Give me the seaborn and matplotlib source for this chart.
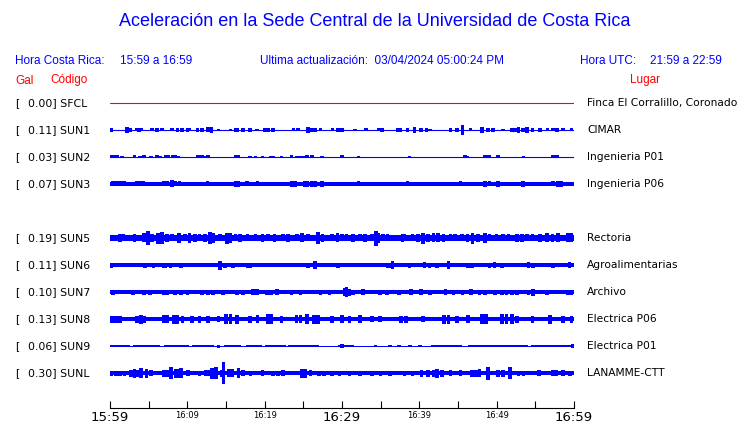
import matplotlib
matplotlib.use("Agg")
import matplotlib.pyplot as plt
import numpy as np
import pandas as pd
import seaborn as sns

# ---------------- data ----------------
codes = ["SFCL", "SUN1", "SUN2", "SUN3", "", "SUN5", "SUN6", "SUN7", "SUN8", "SUN9", "SUNL"]
gal = ["0.00", "0.11", "0.03", "0.07", "", "0.19", "0.11", "0.10", "0.13", "0.06", "0.30"]
places = ["Finca El Corralillo, Coronado", "CIMAR", "Ingenieria P01", "Ingenieria P06", "",
          "Rectoria", "Agroalimentarias", "Archivo", "Electrica P06", "Electrica P01", "LANAMME-CTT"]

tick_minutes = [0, 5, 10, 15, 20, 25, 30, 35, 40, 45, 50, 55, 60]
tick_labels = ["15:59", "", "16:09", "", "16:19", "", "16:29", "", "16:39", "", "16:49", "", "16:59"]
big_labels = ["15:59", "16:29", "16:59"]

# continuous band half-width of each trace (relative amplitude units)
base_amp = [0.0, 0.5, 0.5, 1.7, None, 2.7, 1.7, 1.7, 2.3, None, 2.0]

# bursts: minute after 15:59 and half amplitude
SUN1_t = [0.1, 2.2, 2.6, 3.5, 3.75, 4.1, 5.4, 6.1, 6.7, 8.0, 8.7, 9.3, 10.0, 10.3, 11.3, 11.9, 12.7,
          13.1, 14.0, 15.6, 16.2, 16.4, 17.2, 18.1, 19.0, 20.0, 20.4, 21.1, 23.7, 24.3, 25.6, 26.1,
          26.5, 27.2, 28.8, 29.5, 30.0, 31.7, 33.1, 34.7, 35.2, 37.2, 37.5, 38.5, 39.4, 40.2, 40.9,
          41.4, 44.0, 44.9, 45.6, 46.6, 48.1, 48.9, 49.5, 50.8, 52.0, 52.4, 52.8, 53.4, 53.9, 54.6,
          55.6, 56.6, 57.3, 57.8, 58.6, 59.7]
SUN1_a = [2, 3, 2, 1.5, 2, 1.5, 1.5, 2, 1.5, 1.5, 2, 2, 2, 1.5, 2, 2, 2.5,
          3, 1, 1, 2, 2, 2, 2, 1, 2, 2, 2, 1.5, 1.5, 3, 2,
          2, 1.5, 1.5, 2, 2, 1, 1.5, 1.5, 2, 2, 2, 2, 3, 2, 2,
          1, 2, 2, 5, 1.5, 3, 2, 2, 1, 2, 2, 3, 2, 3, 2,
          2, 1.5, 1.5, 2, 1.5, 1.5]

SUN2_t = [0.2, 0.6, 1.0, 1.55, 3.2, 3.9, 4.4, 5.3, 6.1, 6.5, 7.2, 7.5, 8.1, 8.4, 8.8, 11.4, 11.9,
          12.3, 12.7, 16.3, 16.6, 18.1, 18.8, 19.7, 20.8, 21.1, 22.2, 23.5, 24.2, 24.6, 25.0, 25.5,
          26.1, 27.4, 30.0, 32.1, 38.7, 45.9, 46.2, 48.4, 48.6, 49.1, 50.2, 53.5, 57.3, 57.8]
SUN2_a = [1.5, 1.5, 1.5, 1, 1.5, 1, 1.5, 1, 1.5, 1, 1.5, 1.5, 1.5, 1.5, 1, 1.5, 1.5,
          1, 1.5, 1.5, 1.5, 1, 1, 1, 1, 1, 1, 1.5, 1, 1, 1, 1.5,
          1.5, 1, 1.5, 1, 1, 1.5, 1, 1.5, 1.5, 1.5, 1.5, 1, 1.5, 1.5]

SUN3_t = [0.3, 0.6, 1.0, 1.3, 1.7, 1.9, 2.6, 3.5, 3.9, 4.3, 6.1, 6.9, 7.4, 8.0, 8.4, 9.0, 11.3,
          12.6, 15.8, 16.3, 16.6, 17.7, 18.4, 19.1, 20.4, 21.3, 23.5, 23.9, 24.3, 25.2, 25.5, 26.1,
          26.5, 27.4, 28.2, 32.1, 38.5, 45.3, 46.4, 48.5, 49.1, 50.2, 53.4, 57.3, 57.9, 58.4]
SUN3_a = [2.5, 2.5, 2.5, 2.5, 2.5, 2.5, 2, 2.5, 2.5, 2.5, 2, 2.5, 2.5, 3.5, 2.5, 2.5, 2,
          2.5, 2, 3, 3, 2.5, 2, 2.5, 2, 2, 3, 3, 2, 3, 3, 3,
          3, 3, 2, 2.5, 2.5, 2.5, 2, 3, 2.5, 3, 3, 2.5, 3, 3]

SUN5_t = [0.4, 1.3, 1.7, 2.3, 3.2, 3.6, 4.4, 4.9, 5.4, 6.2, 6.7, 7.4, 8.0, 8.9, 9.7, 10.3, 11.0,
          11.6, 12.3, 12.9, 13.3, 14.2, 15.1, 15.5, 16.2, 16.8, 17.8, 18.8, 19.7, 20.4, 21.3, 22.4,
          23.0, 24.2, 24.8, 25.6, 26.3, 26.9, 27.5, 28.7, 29.4, 30.0, 30.6, 31.4, 32.3, 33.0, 33.9,
          34.4, 34.7, 35.3, 35.9, 37.8, 38.1, 39.1, 39.8, 40.5, 41.1, 41.8, 42.4, 43.1, 44.0, 44.6,
          45.5, 46.2, 46.9, 47.6, 48.5, 49.1, 50.0, 50.8, 51.5, 52.6, 53.3, 53.9, 54.6, 55.6, 56.5,
          57.2, 57.9, 59.2, 59.7]
SUN5_a = [3, 4, 3.5, 3, 4, 3, 4.5, 7, 4, 5.5, 6, 4, 3.5, 5, 3.5, 5, 4,
          3.5, 4, 6, 5, 3.5, 5.5, 5, 3.5, 4, 3.5, 3.5, 4, 3.5, 4, 3.5,
          4, 3.5, 4.5, 3.5, 3, 6, 4, 3.5, 4.5, 3.5, 3.5, 4, 3.5, 4, 3.5,
          7.5, 5, 3.5, 3.5, 4, 3.5, 3.5, 4, 5.5, 4, 4.5, 4.5, 4, 3.5, 3.5,
          3.5, 4, 5.5, 4, 5, 3.5, 3.5, 3.5, 3.5, 4, 4, 3.5, 3.5, 4, 4.5,
          4, 4.5, 4.5, 4.5]

SUN6_t = [0.1, 4.5, 4.9, 5.6, 6.9, 7.2, 7.8, 9.2, 14.2, 14.9, 15.9, 17.8, 18.2, 22.9, 25.6, 26.5,
          28.2, 29.5, 35.9, 36.2, 36.5, 38.7, 40.7, 41.3, 42.3, 43.8, 46.3, 46.8, 49.1, 49.7, 50.7,
          51.5, 54.1, 54.7, 57.3, 59.4]
SUN6_a = [2.5, 2.5, 2, 2.5, 2.5, 2.5, 2.5, 2.5, 4.5, 2.5, 2.5, 2.5, 2.5, 2, 2.5, 4,
          2, 2.5, 2.5, 2.5, 4, 2.5, 3, 2.5, 2.5, 4, 2.5, 2.5, 2.5, 3, 2.5,
          2, 3, 2.5, 2.5, 3]

SUN7_t = [0.4, 3.0, 4.4, 5.2, 6.2, 6.9, 7.4, 8.4, 9.2, 10.0, 11.0, 11.9, 12.7, 13.3, 14.6, 15.5,
          16.4, 17.2, 18.5, 19.0, 20.3, 20.8, 21.6, 22.9, 23.5, 24.6, 25.2, 27.2, 28.4, 29.4, 30.3,
          30.4, 30.6, 31.0, 31.4, 32.7, 34.9, 35.8, 37.4, 38.9, 40.2, 41.4, 43.4, 44.4, 45.6, 46.7,
          47.8, 48.5, 49.8, 50.7, 51.3, 52.0, 52.6, 54.1, 54.7, 56.5, 57.8, 59.2, 59.7]
SUN7_a = [2.5, 2.5, 2.5, 2.5, 2, 2.5, 2.5, 2.5, 2.5, 2.5, 2, 2.5, 2.5, 2.5, 2.5, 2,
          2.5, 2.5, 3, 3, 2.5, 2.5, 3, 2, 2.5, 2.5, 2, 2.5, 2.5, 2, 3,
          4, 5, 3.5, 2.5, 3, 2.5, 2.5, 2.5, 3, 3, 2.5, 3, 2.5, 2.5, 3,
          2.5, 2.5, 2.5, 2.5, 2.5, 2.5, 2.5, 2.5, 3.5, 2.5, 2, 2.5, 2.5]

SUN8_t = [0.1, 0.5, 0.9, 1.3, 3.5, 4.0, 4.4, 7.0, 7.4, 8.3, 8.7, 9.4, 10.6, 11.6, 12.7, 14.0, 15.0,
          15.6, 16.4, 18.1, 19.1, 20.4, 20.9, 22.2, 24.1, 24.6, 25.5, 26.4, 26.9, 28.7, 30.0, 31.0,
          32.3, 33.9, 34.9, 37.6, 38.3, 40.5, 43.2, 43.8, 44.9, 46.3, 48.1, 48.6, 50.7, 51.3, 52.0,
          52.6, 54.6, 56.9, 58.6, 59.7]
SUN8_a = [3.5, 3.5, 3.5, 3.5, 3.5, 4.5, 3.5, 4, 4, 4.5, 4.5, 3.5, 3.5, 3.5, 3.5, 3, 5,
          5.5, 4.5, 3.5, 4, 5, 5, 3.5, 4, 4, 5.5, 4.5, 4.5, 3.5, 4, 3.5,
          4, 3, 3, 3.5, 3.5, 3, 4.5, 4.5, 3.5, 4, 5.5, 5.5, 5.5, 5.5, 5,
          3.5, 3.5, 4.5, 3.5, 3.5]

SUN9_t = [14.0, 30.0, 34.3, 36.2, 37.4, 40.1, 59.8]
SUN9_a = [1.5, 2, 1.3, 1.3, 1.3, 1.3, 2]
# SUN9 band: segment start, end, half amplitude
SUN9_seg_start = [0.0, 2.6, 3.0, 6.5, 7.0, 10.2, 10.6, 13.5, 14.8, 17.0, 17.6, 19.7, 20.1, 22.7,
                  23.0, 27.0, 29.5, 31.5, 38.5, 39.0, 41.5, 45.5, 46.3, 54.0, 54.5]
SUN9_seg_end = [2.6, 3.0, 6.5, 7.0, 10.2, 10.6, 13.5, 14.8, 17.0, 17.6, 19.7, 20.1, 22.7, 23.0,
                27.0, 29.5, 31.5, 38.5, 39.0, 41.5, 45.5, 46.3, 54.0, 54.5, 60.0]
SUN9_seg_a = [1.3, 0.5, 1.3, 0.5, 1.3, 0.5, 1.3, 0.5, 1.3, 0.5, 1.3, 0.5, 1.3, 0.5,
              1.3, 0.5, 1.2, 0.5, 1.1, 0.5, 1.2, 0.5, 1.2, 0.5, 1.2]

SUNL_t = [0.1, 0.8, 1.3, 1.9, 2.7, 3.2, 3.6, 4.0, 4.7, 5.3, 7.0, 7.5, 7.9, 8.5, 8.9, 9.2, 10.1,
          11.6, 12.4, 12.9, 13.2, 13.7, 14.5, 14.7, 15.3, 15.8, 16.6, 17.2, 18.2, 19.7, 21.1, 21.7,
          22.4, 24.8, 25.2, 25.9, 27.0, 27.7, 28.7, 29.7, 31.0, 32.3, 33.9, 35.0, 36.2, 38.1, 39.1,
          40.3, 41.1, 41.8, 42.3, 42.9, 44.0, 45.3, 46.8, 47.3, 47.8, 48.9, 50.2, 50.8, 51.7, 52.8,
          53.5, 55.5, 57.2, 57.7, 58.6, 59.5]
SUNL_a = [2.5, 2.5, 2.5, 2.5, 3.5, 4.5, 3.5, 5, 4.5, 3, 3.5, 3.5, 6, 4.5, 4.5, 5, 3,
          2.5, 3, 3, 5.5, 6, 3.5, 11, 4, 4, 5, 3, 2.5, 3, 2.5, 2.5,
          3, 4.5, 4.5, 3, 2.5, 2.5, 2.5, 2.5, 2.5, 2.5, 2.5, 2.5, 2.5, 2.5, 2.5,
          3.5, 3.5, 3.5, 4.5, 3.5, 3, 3, 3.5, 3.5, 4, 6.5, 3.5, 3.5, 6, 2.5,
          2.5, 3, 3, 3, 3, 2.5]

bursts = {1: (SUN1_t, SUN1_a), 2: (SUN2_t, SUN2_a), 3: (SUN3_t, SUN3_a), 5: (SUN5_t, SUN5_a),
          6: (SUN6_t, SUN6_a), 7: (SUN7_t, SUN7_a), 8: (SUN8_t, SUN8_a), 9: (SUN9_t, SUN9_a),
          10: (SUNL_t, SUNL_a)}

# ---------------- layout ----------------
W, H = 740, 423
ROW0_PX, PITCH = 103, 27          # pixel row of first trace and row pitch
AX_X0, AX_X1 = 110, 574
AXIS_PX = 408
AMP = 1.0 / PITCH                 # amplitude unit -> row units
BLUE = "#0000ff"
RED = "#ff0000"

sns.set_theme(style="white")
plt.rcParams["font.family"] = ["DejaVu Sans"]

fig = plt.figure(figsize=(W / 100, H / 100), dpi=100)
fig.patch.set_facecolor("white")
ax = fig.add_axes([AX_X0 / W, 0, (AX_X1 - AX_X0) / W, 1])
ax.set_facecolor("white")
ax.set_xlim(0, 60)
ax.set_ylim((H - ROW0_PX) / PITCH, -ROW0_PX / PITCH)

# baselines
for i, b in enumerate(base_amp):
    if codes[i] == "":
        continue
    col = RED if i == 0 else BLUE
    if b is not None and b > 0.5:
        ax.fill_between([0, 60], i - b * AMP, i + b * AMP, color=col, linewidth=0, antialiased=False)
    elif b is not None:
        df = pd.DataFrame({"t": [0, 60], "y": [i, i]})
        sns.lineplot(data=df, x="t", y="y", color=col, linewidth=0.8, ax=ax)

# SUN9 segmented band
for s, e, a in zip(SUN9_seg_start, SUN9_seg_end, SUN9_seg_a):
    ax.fill_between([s, e], 9 - a * AMP, 9 + a * AMP, color=BLUE, linewidth=0, antialiased=False)

# bursts
for i, (t, a) in bursts.items():
    a = np.asarray(a, dtype=float)
    ax.bar(t, 2 * a * AMP, bottom=i - a * AMP, width=0.45, color=BLUE, linewidth=0,
           antialiased=False)

# time axis
for sp in ["left", "right", "top"]:
    ax.spines[sp].set_visible(False)
ax.spines["bottom"].set_position(("data", (AXIS_PX - ROW0_PX) / PITCH))
ax.spines["bottom"].set_color("black")
ax.spines["bottom"].set_linewidth(0.8)
ax.set_yticks([])
ax.set_xticks(tick_minutes)
ax.set_xticklabels(tick_labels)
ax.tick_params(axis="x", direction="in", length=5, width=0.8, color="black", pad=2.5,
               labelcolor="black", bottom=True)
for lbl in ax.get_xticklabels():
    lbl.set_fontsize(9.5 if lbl.get_text() in big_labels else 6)
ax.set_xlabel("")
ax.set_ylabel("")


def ftext(x, y, s, **kw):
    fig.text(x / W, 1 - y / H, s, **kw)


HDR = dict(family=["Liberation Sans", "DejaVu Sans"], va="center")
ftext(375, 22, "Aceleración en la Sede Central de la Universidad de Costa Rica",
      color=BLUE, fontsize=13, ha="center", **HDR)
ftext(15, 60.5, "Hora Costa Rica:", color=BLUE, fontsize=8.5, ha="left", **HDR)
ftext(120, 60.5, "15:59 a 16:59", color=BLUE, fontsize=8.5, ha="left", **HDR)
ftext(260, 60.5, "Ultima actualización:  03/04/2024 05:00:24 PM", color=BLUE, fontsize=8.5,
      ha="left", **HDR)
ftext(580, 60.5, "Hora UTC:", color=BLUE, fontsize=8.5, ha="left", **HDR)
ftext(650, 60.5, "21:59 a 22:59", color=BLUE, fontsize=8.5, ha="left", **HDR)
ftext(15, 80.5, "Gal", color=RED, fontsize=8.5, ha="left", **HDR)
ftext(50, 80.5, "Código", color=RED, fontsize=8.5, ha="left", **HDR)
ftext(630, 80.5, "Lugar", color=RED, fontsize=8.5, ha="left", **HDR)

for i, (c, g, p) in enumerate(zip(codes, gal, places)):
    if c == "":
        continue
    y = ROW0_PX + i * PITCH
    ftext(15, y, "[", fontsize=7.8, color="black", ha="left", va="center")
    ftext(28, y, f"{g}] {c}", fontsize=7.8, color="black", ha="left", va="center")
    ftext(587, y, p, fontsize=7.7, color="black", ha="left", va="center")

fig.savefig("out.png", dpi=100, facecolor="white")
